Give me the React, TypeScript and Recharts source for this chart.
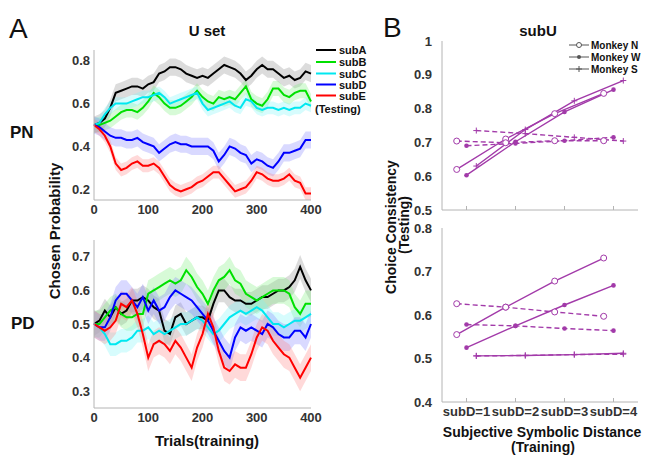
import React from "react";
import { ComposedChart, Line, Area, XAxis, YAxis } from "recharts";

// ---- panel A: running choice probability over training trials ----
const TRIALS = [
  0, 10, 20, 30, 40, 50, 60, 70, 80, 90, 100, 110, 120, 130, 140, 150, 160, 170, 180, 190, 200,
  210, 220, 230, 240, 250, 260, 270, 280, 290, 300, 310, 320, 330, 340, 350, 360, 370, 380, 390, 400,
];
const TRIAL_TICKS = [0, 100, 200, 300, 400];

const SUBS = ["subA", "subB", "subC", "subD", "subE"];
const SUB_COLORS = ["#000000", "#00e000", "#00e8f0", "#0000ff", "#ff0000"];
const BAND_COLORS = ["#8a8a8a", "#7cf07c", "#7cf4f8", "#8080ff", "#ff8080"];

const PN_SUBA = [0.5, 0.51, 0.53, 0.58, 0.65, 0.66, 0.67, 0.68, 0.68, 0.67, 0.69, 0.7, 0.74, 0.75, 0.77, 0.77, 0.76, 0.74, 0.73, 0.72, 0.73, 0.72, 0.74, 0.76, 0.78, 0.77, 0.76, 0.74, 0.71, 0.73, 0.76, 0.78, 0.76, 0.76, 0.74, 0.72, 0.73, 0.71, 0.72, 0.75, 0.74];
const PN_SUBB = [0.5, 0.5, 0.51, 0.52, 0.54, 0.56, 0.57, 0.57, 0.56, 0.58, 0.61, 0.65, 0.63, 0.6, 0.58, 0.58, 0.59, 0.61, 0.63, 0.66, 0.63, 0.61, 0.6, 0.63, 0.62, 0.63, 0.62, 0.65, 0.68, 0.62, 0.6, 0.59, 0.62, 0.67, 0.67, 0.64, 0.63, 0.65, 0.66, 0.66, 0.61];
const PN_SUBC = [0.5, 0.51, 0.55, 0.58, 0.6, 0.6, 0.6, 0.61, 0.62, 0.63, 0.63, 0.64, 0.65, 0.63, 0.6, 0.61, 0.62, 0.63, 0.64, 0.65, 0.6, 0.57, 0.58, 0.59, 0.6, 0.61, 0.59, 0.58, 0.62, 0.61, 0.58, 0.57, 0.58, 0.58, 0.57, 0.58, 0.57, 0.58, 0.58, 0.6, 0.59];
const PN_SUBD = [0.5, 0.49, 0.47, 0.45, 0.44, 0.44, 0.43, 0.43, 0.44, 0.42, 0.41, 0.4, 0.37, 0.39, 0.41, 0.42, 0.41, 0.41, 0.4, 0.4, 0.4, 0.4, 0.38, 0.33, 0.36, 0.4, 0.39, 0.37, 0.36, 0.32, 0.34, 0.33, 0.31, 0.3, 0.33, 0.37, 0.37, 0.38, 0.39, 0.43, 0.43];
const PN_SUBE = [0.5, 0.48, 0.45, 0.4, 0.32, 0.29, 0.3, 0.32, 0.33, 0.31, 0.31, 0.32, 0.3, 0.26, 0.22, 0.2, 0.19, 0.2, 0.21, 0.23, 0.24, 0.26, 0.28, 0.28, 0.25, 0.22, 0.19, 0.2, 0.21, 0.24, 0.28, 0.27, 0.25, 0.24, 0.24, 0.25, 0.27, 0.24, 0.23, 0.18, 0.18];
const PN_BAND = [0.04, 0.035, 0.03, 0.04, 0.03];

const PD_SUBA = [0.5, 0.51, 0.54, 0.52, 0.55, 0.53, 0.54, 0.57, 0.57, 0.58, 0.57, 0.55, 0.54, 0.48, 0.47, 0.52, 0.53, 0.5, 0.51, 0.52, 0.52, 0.51, 0.56, 0.6, 0.6, 0.58, 0.57, 0.57, 0.56, 0.56, 0.57, 0.58, 0.58, 0.59, 0.6, 0.6, 0.61, 0.63, 0.67, 0.63, 0.6];
const PD_SUBB = [0.5, 0.5, 0.52, 0.54, 0.55, 0.53, 0.52, 0.52, 0.53, 0.53, 0.59, 0.6, 0.61, 0.62, 0.63, 0.62, 0.63, 0.66, 0.64, 0.61, 0.59, 0.56, 0.6, 0.63, 0.64, 0.66, 0.63, 0.62, 0.59, 0.58, 0.57, 0.58, 0.59, 0.6, 0.6, 0.6, 0.59, 0.55, 0.53, 0.56, 0.56];
const PD_SUBC = [0.5, 0.49, 0.47, 0.44, 0.44, 0.45, 0.45, 0.46, 0.48, 0.48, 0.49, 0.47, 0.48, 0.47, 0.48, 0.49, 0.5, 0.5, 0.51, 0.52, 0.51, 0.49, 0.47, 0.48, 0.5, 0.52, 0.53, 0.54, 0.53, 0.54, 0.55, 0.54, 0.52, 0.5, 0.5, 0.49, 0.5, 0.51, 0.51, 0.52, 0.53];
const PD_SUBD = [0.5, 0.49, 0.49, 0.52, 0.57, 0.59, 0.59, 0.57, 0.55, 0.58, 0.54, 0.57, 0.54, 0.55, 0.58, 0.6, 0.59, 0.58, 0.57, 0.55, 0.53, 0.51, 0.48, 0.45, 0.42, 0.4, 0.46, 0.49, 0.48, 0.49, 0.48, 0.47, 0.5, 0.49, 0.47, 0.46, 0.46, 0.48, 0.48, 0.46, 0.5];
const PD_SUBE = [0.5, 0.49, 0.48, 0.49, 0.51, 0.56, 0.55, 0.57, 0.53, 0.47, 0.4, 0.44, 0.45, 0.44, 0.42, 0.45, 0.43, 0.4, 0.37, 0.43, 0.47, 0.53, 0.49, 0.42, 0.37, 0.36, 0.38, 0.37, 0.37, 0.41, 0.46, 0.49, 0.48, 0.45, 0.43, 0.41, 0.4, 0.37, 0.34, 0.37, 0.4];
const PD_BAND = [0.035, 0.04, 0.035, 0.04, 0.04];

// ---- panel B: choice consistency vs subjective distance ----
const SUBD_TICKS = [1, 2, 3, 4];
const MONKEY_N_X = [0.8, 1.8, 2.8, 3.8];
const MONKEY_W_X = [1, 2, 3, 4];
const MONKEY_S_X = [1.2, 2.2, 3.2, 4.2];

const SUBU_N_SOLID = [0.62, 0.71, 0.785, 0.845];
const SUBU_W_SOLID = [0.603, 0.702, 0.79, 0.856];
const SUBU_S_SOLID = [0.63, 0.738, 0.823, 0.883];
const SUBU_N_DASH = [0.704, 0.699, 0.705, 0.705];
const SUBU_W_DASH = [0.69, 0.697, 0.705, 0.715];
const SUBU_S_DASH = [0.735, 0.726, 0.715, 0.704];

const PD_N_SOLID = [0.555, 0.618, 0.678, 0.731];
const PD_W_SOLID = [0.525, 0.575, 0.623, 0.668];
const PD_S_SOLID = [0.506, 0.507, 0.509, 0.512];
const PD_N_DASH = [0.626, 0.618, 0.607, 0.597];
const PD_W_DASH = [0.578, 0.575, 0.569, 0.564];
const PD_S_DASH = [0.506, 0.507, 0.509, 0.51];

const FONT = '"Liberation Sans", Arial, sans-serif';
const AXIS_GRAY = "#b4b4b4";
const PURPLE = "#a23aa9";
const TICK_STYLE = { fill: "#333", fontSize: 13, fontWeight: 700, fontFamily: FONT };

type Row = Record<string, any>;

function buildRows(series: number[][], band: number[]): Row[] {
  return TRIALS.map((t, i) => {
    const row: Row = { t };
    SUBS.forEach((name, j) => {
      const v = series[j][i];
      row[name] = v;
      row[name + "Band"] = [v - band[j], v + band[j]];
    });
    return row;
  });
}

const pnRows = buildRows([PN_SUBA, PN_SUBB, PN_SUBC, PN_SUBD, PN_SUBE], PN_BAND);
const pdRows = buildRows([PD_SUBA, PD_SUBB, PD_SUBC, PD_SUBD, PD_SUBE], PD_BAND);

function TrialPanel({ rows, height, domain, ticks }: { rows: Row[]; height: number; domain: number[]; ticks: number[] }) {
  return (
    <ComposedChart width={285} height={height} data={rows} margin={{ top: 10, right: 24, left: 0, bottom: 0 }}>
      <XAxis
        dataKey="t"
        type="number"
        domain={[0, 400]}
        ticks={TRIAL_TICKS}
        interval={0}
        height={20}
        axisLine={{ stroke: AXIS_GRAY }}
        tickLine={false}
        tickSize={0}
        tickMargin={5}
        tick={TICK_STYLE}
      />
      <YAxis
        type="number"
        domain={domain}
        ticks={ticks}
        interval={0}
        width={44}
        allowDataOverflow
        axisLine={{ stroke: AXIS_GRAY }}
        tickLine={false}
        tickSize={0}
        tickMargin={4}
        tick={TICK_STYLE}
        tickFormatter={(v: number) => v.toFixed(1)}
      />
      {SUBS.map((name, j) => (
        <Area
          key={name + "Band"}
          dataKey={name + "Band"}
          type="linear"
          stroke="none"
          fill={BAND_COLORS[j]}
          fillOpacity={0.3}
          isAnimationActive={false}
        />
      ))}
      {SUBS.map((name, j) => (
        <Line
          key={name}
          dataKey={name}
          type="linear"
          stroke={SUB_COLORS[j]}
          strokeWidth={2}
          dot={false}
          isAnimationActive={false}
        />
      ))}
    </ComposedChart>
  );
}

const openCircle = (p: any) => (
  <circle key={p.index} cx={p.cx} cy={p.cy} r={3} fill="#fff" stroke={PURPLE} strokeWidth={1} />
);
const filledDot = (p: any) => <circle key={p.index} cx={p.cx} cy={p.cy} r={2.3} fill={PURPLE} />;
const plusMark = (p: any) => (
  <path key={p.index} d={`M${p.cx - 3},${p.cy}h6M${p.cx},${p.cy - 3}v6`} stroke={PURPLE} strokeWidth={1} />
);

function pts(xs: number[], ys: number[]) {
  return xs.map((x, i) => ({ x, y: ys[i] }));
}

function MonkeyPanel({
  height,
  domain,
  ticks,
  values,
  showLabels,
}: {
  height: number;
  domain: number[];
  ticks: number[];
  values: number[][];
  showLabels: boolean;
}) {
  const [nS, wS, sS, nD, wD, sD] = values;
  const series = [
    { data: pts(MONKEY_N_X, nS), dot: openCircle, dash: undefined },
    { data: pts(MONKEY_W_X, wS), dot: filledDot, dash: undefined },
    { data: pts(MONKEY_S_X, sS), dot: plusMark, dash: undefined },
    { data: pts(MONKEY_N_X, nD), dot: openCircle, dash: "5 3" },
    { data: pts(MONKEY_W_X, wD), dot: filledDot, dash: "5 3" },
    { data: pts(MONKEY_S_X, sD), dot: plusMark, dash: "5 3" },
  ];
  return (
    <ComposedChart width={250} height={height} margin={{ top: 10, right: 4, left: 0, bottom: 0 }}>
      <XAxis
        dataKey="x"
        type="number"
        domain={[0.5, 4.5]}
        ticks={SUBD_TICKS}
        interval={0}
        height={20}
        allowDataOverflow
        axisLine={{ stroke: AXIS_GRAY }}
        tickLine={{ stroke: AXIS_GRAY }}
        tickSize={-4}
        tickMargin={9}
        tick={TICK_STYLE}
        tickFormatter={(v: number) => (showLabels ? `subD=${v}` : "")}
      />
      <YAxis
        type="number"
        domain={domain}
        ticks={ticks}
        interval={0}
        width={50}
        allowDataOverflow
        axisLine={{ stroke: AXIS_GRAY }}
        tickLine={false}
        tickSize={0}
        tickMargin={10}
        tick={TICK_STYLE}
        tickFormatter={(v: number) => (v === 1 ? "1" : v.toFixed(1))}
      />
      {series.map((s, i) => (
        <Line
          key={i}
          data={s.data}
          dataKey="y"
          type="linear"
          stroke={PURPLE}
          strokeWidth={1.4}
          strokeDasharray={s.dash}
          dot={s.dot}
          isAnimationActive={false}
        />
      ))}
    </ComposedChart>
  );
}

const LEGEND_A = ["subA", "subB", "subC", "subD", "subE"];
const LEGEND_A_Y = [50, 62, 73.5, 84.5, 95.5];
const LEGEND_B = ["Monkey N", "Monkey W", "Monkey S"];
const LEGEND_B_Y = [45, 57, 69];

export default function App() {
  const bold = { fontFamily: FONT, fontWeight: 700 as const, fill: "#111" };
  return (
    <div style={{ position: "absolute", left: 0, top: 0, width: 647, height: 457, background: "#fff", fontFamily: FONT }}>
      <div style={{ position: "absolute", left: 50, top: 40 }}>
        <TrialPanel rows={pnRows} height={180} domain={[0.15, 0.85]} ticks={[0.2, 0.4, 0.6, 0.8]} />
      </div>
      <div style={{ position: "absolute", left: 50, top: 230 }}>
        <TrialPanel rows={pdRows} height={198} domain={[0.25, 0.75]} ticks={[0.3, 0.4, 0.5, 0.6, 0.7]} />
      </div>
      <div style={{ position: "absolute", left: 392, top: 31 }}>
        <MonkeyPanel
          height={199}
          domain={[0.5, 1]}
          ticks={[0.5, 0.6, 0.7, 0.8, 0.9, 1]}
          values={[SUBU_N_SOLID, SUBU_W_SOLID, SUBU_S_SOLID, SUBU_N_DASH, SUBU_W_DASH, SUBU_S_DASH]}
          showLabels={false}
        />
      </div>
      <div style={{ position: "absolute", left: 392, top: 218 }}>
        <MonkeyPanel
          height={204}
          domain={[0.4, 0.8]}
          ticks={[0.4, 0.5, 0.6, 0.7, 0.8]}
          values={[PD_N_SOLID, PD_W_SOLID, PD_S_SOLID, PD_N_DASH, PD_W_DASH, PD_S_DASH]}
          showLabels={true}
        />
      </div>
      <svg width={647} height={457} style={{ position: "absolute", left: 0, top: 0, pointerEvents: "none" }}>
        <text x={9} y={38} fontSize={28} fontFamily={FONT} fill="#111">A</text>
        <text x={383} y={37} fontSize={28} fontFamily={FONT} fill="#111">B</text>
        <text x={207} y={36} fontSize={15} textAnchor="middle" {...bold}>U set</text>
        <text x={538} y={36} fontSize={15} textAnchor="middle" {...bold}>subU</text>
        <text x={10} y={138} fontSize={17} {...bold}>PN</text>
        <text x={11} y={329} fontSize={17} {...bold}>PD</text>
        <text transform="translate(60,231) rotate(-90)" fontSize={15} textAnchor="middle" {...bold}>
          Chosen Probability
        </text>
        <text x={207} y={446} fontSize={15} textAnchor="middle" {...bold}>Trials(training)</text>
        <text transform="translate(396,227) rotate(-90)" fontSize={14} textAnchor="middle" {...bold}>
          Choice Consistency
        </text>
        <text transform="translate(409,225) rotate(-90)" fontSize={14} textAnchor="middle" {...bold}>
          (Testing)
        </text>
        <text x={542} y={437} fontSize={14} textAnchor="middle" {...bold}>Subjective Symbolic Distance</text>
        <text x={543} y={452} fontSize={14} textAnchor="middle" {...bold}>(Training)</text>

        {LEGEND_A.map((name, i) => (
          <g key={name}>
            <line x1={316} x2={336} y1={LEGEND_A_Y[i]} y2={LEGEND_A_Y[i]} stroke={SUB_COLORS[i]} strokeWidth={2} />
            <text x={339} y={LEGEND_A_Y[i] + 4} fontSize={11} {...bold}>{name}</text>
          </g>
        ))}
        <text x={315} y={113} fontSize={11} {...bold}>(Testing)</text>

        {LEGEND_B.map((name, i) => {
          const y = LEGEND_B_Y[i];
          return (
            <g key={name}>
              <line x1={569} x2={589} y1={y} y2={y} stroke="#555" strokeWidth={1} />
              {i === 0 && <circle cx={579} cy={y} r={2.5} fill="#fff" stroke="#555" strokeWidth={1} />}
              {i === 1 && <circle cx={579} cy={y} r={2} fill="#555" />}
              {i === 2 && <path d={`M576,${y}h6M579,${y - 3}v6`} stroke="#555" strokeWidth={1} />}
              <text x={591} y={y + 3.5} fontSize={10} {...bold}>{name}</text>
            </g>
          );
        })}
      </svg>
    </div>
  );
}
